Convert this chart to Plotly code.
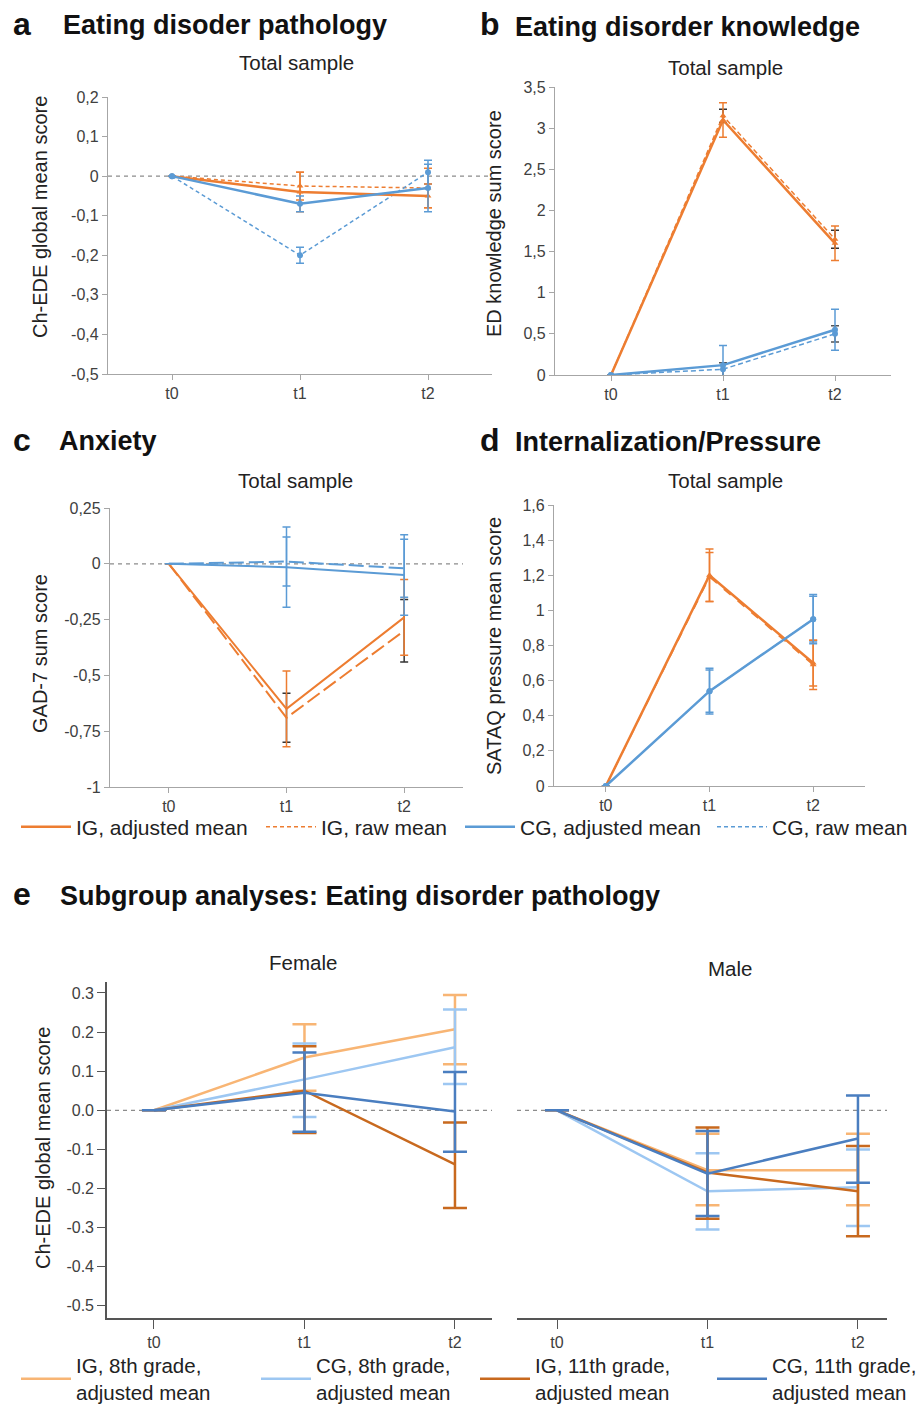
import plotly.graph_objects as go

W, H = 922, 1404
def px(x): return x / W
def py(y): return 1 - y / H

FONT = "Liberation Sans, Arial, sans-serif"
ORANGE = "#ED7D31"
BLUE = "#5B9BD5"
TXT = "#404040"

times = ["t0", "t1", "t2"]

# ---------------- data: panel a (Eating disorder pathology) ----------------
a_ig_adj = [0, -0.04, -0.05];  a_ig_adj_err = [0, 0.05, 0.03]
a_ig_raw = [0, -0.025, -0.03]; a_ig_raw_err = [0, 0.035, 0.05]
a_cg_adj = [0, -0.07, -0.03];  a_cg_adj_err = [0, 0.02, 0.06]
a_cg_raw = [0, -0.20, 0.01];   a_cg_raw_err = [0, 0.02, 0.03]
a_ticks = [0.2, 0.1, 0, -0.1, -0.2, -0.3, -0.4, -0.5]
a_ticktext = ["0,2", "0,1", "0", "-0,1", "-0,2", "-0,3", "-0,4", "-0,5"]

# ---------------- data: panel b (ED knowledge) ----------------
b_ig_adj = [0, 3.10, 1.60];  b_ig_adj_err = [0, 0.21, 0.21]
b_ig_raw = [0, 3.15, 1.65];  b_ig_raw_err = [0, 0.08, 0.11]
b_cg_adj = [0, 0.12, 0.55];  b_cg_adj_err = [0, 0.24, 0.25]
b_cg_raw = [0, 0.07, 0.50];  b_cg_raw_err = [0, 0.08, 0.10]
b_ticks = [3.5, 3, 2.5, 2, 1.5, 1, 0.5, 0]
b_ticktext = ["3,5", "3", "2,5", "2", "1,5", "1", "0,5", "0"]

# ---------------- data: panel c (Anxiety) ----------------
c_ig_adj = [0, -0.65, -0.24];  c_ig_adj_err = [0, 0.17, 0.17]
c_ig_raw = [0, -0.69, -0.30];  c_ig_raw_err = [0, 0.11, 0.14]
c_cg_adj = [0, -0.015, -0.05]; c_cg_adj_err = [0, 0.18, 0.18]
c_cg_raw = [0, 0.01, -0.02];   c_cg_raw_err = [0, 0.11, 0.13]
c_ticks = [0.25, 0, -0.25, -0.5, -0.75, -1]
c_ticktext = ["0,25", "0", "-0,25", "-0,5", "-0,75", "-1"]

# ---------------- data: panel d (Internalization/Pressure) ----------------
d_ig_adj = [0, 1.20, 0.70];  d_ig_adj_err = [0, 0.15, 0.13]
d_ig_raw = [0, 1.19, 0.69];  d_ig_raw_err = [0, 0.14, 0.14]
d_cg_adj = [0, 0.54, 0.95];  d_cg_adj_err = [0, 0.13, 0.14]
d_cg_raw = [0, 0.54, 0.95];  d_cg_raw_err = [0, 0.12, 0.13]
d_ticks = [1.6, 1.4, 1.2, 1, 0.8, 0.6, 0.4, 0.2, 0]
d_ticktext = ["1,6", "1,4", "1,2", "1", "0,8", "0,6", "0,4", "0,2", "0"]

# ---------------- data: panel e (subgroups) ----------------
e_names = ["IG, 8th grade,<br>adjusted mean", "CG, 8th grade,<br>adjusted mean",
           "IG, 11th grade,<br>adjusted mean", "CG, 11th grade,<br>adjusted mean"]
e_colors = ["#F8B574", "#9DC7F2", "#C8691E", "#4A7EC0"]
female_mean  = [[0, 0.135, 0.207], [0, 0.079, 0.161], [0, 0.050, -0.138], [0, 0.045, -0.003]]
female_upper = [[0, 0.220, 0.295], [0, 0.171, 0.258], [0, 0.164, -0.031], [0, 0.148, 0.098]]
female_lower = [[0, 0.050, 0.118], [0, -0.017, 0.067], [0, -0.058, -0.250], [0, -0.055, -0.106]]
male_mean  = [[0, -0.153, -0.153], [0, -0.207, -0.197], [0, -0.159, -0.207], [0, -0.162, -0.072]]
male_upper = [[0, -0.060, -0.060], [0, -0.110, -0.100], [0, -0.044, -0.091], [0, -0.053, 0.038]]
male_lower = [[0, -0.243, -0.243], [0, -0.305, -0.296], [0, -0.277, -0.322], [0, -0.270, -0.185]]
e_ticks = [0.3, 0.2, 0.1, 0.0, -0.1, -0.2, -0.3, -0.4, -0.5]

fig = go.Figure()

def add_series(ax, y, err, color, dash, symbol, name, width=2.5, marker=True,
               legend=None, errcolor=None):
    fig.add_trace(go.Scatter(
        x=times, y=y, name=name, xaxis="x" + ax, yaxis="y" + ax, mode="lines",
        line=dict(color=color, width=width, dash=dash),
        error_y=dict(type="data", array=err, visible=True,
                     color=errcolor or color, thickness=1.5, width=4),
        showlegend=legend is not None, legend=legend or "legend", hoverinfo="skip"))
    if marker:
        fig.add_trace(go.Scatter(
            x=times, y=y, xaxis="x" + ax, yaxis="y" + ax, mode="markers",
            marker=dict(symbol=symbol, size=6, color=color),
            showlegend=False, hoverinfo="skip"))

# panel a (its line traces feed the top legend)
add_series("", a_ig_raw, a_ig_raw_err, ORANGE, "4px,3px", "triangle-up", "IG, raw mean", width=1.5, legend="legend2")
add_series("", a_cg_raw, a_cg_raw_err, BLUE, "4px,3px", "circle", "CG, raw mean", width=1.5, legend="legend4")
add_series("", a_ig_adj, a_ig_adj_err, ORANGE, "solid", "triangle-up", "IG, adjusted mean", legend="legend")
add_series("", a_cg_adj, a_cg_adj_err, BLUE, "solid", "circle", "CG, adjusted mean", legend="legend3")
# panel b
add_series("2", b_ig_raw, b_ig_raw_err, ORANGE, "5px,3px", "triangle-up", "IG, raw mean", width=1.5, errcolor="#333333")
add_series("2", b_cg_raw, b_cg_raw_err, BLUE, "5px,3px", "circle", "CG, raw mean", width=1.5, errcolor="#555555")
add_series("2", b_ig_adj, b_ig_adj_err, ORANGE, "solid", "triangle-up", "IG, adjusted mean")
add_series("2", b_cg_adj, b_cg_adj_err, BLUE, "solid", "circle", "CG, adjusted mean")
# panel c
add_series("3", c_ig_raw, c_ig_raw_err, ORANGE, "15px,5px", "circle", "IG, raw mean", width=2, marker=False, errcolor="#333333")
add_series("3", c_cg_raw, c_cg_raw_err, BLUE, "15px,5px", "circle", "CG, raw mean", width=2, marker=False)
add_series("3", c_ig_adj, c_ig_adj_err, ORANGE, "solid", "circle", "IG, adjusted mean", width=2, marker=False)
add_series("3", c_cg_adj, c_cg_adj_err, BLUE, "solid", "circle", "CG, adjusted mean", width=2, marker=False)
# panel d
add_series("4", d_ig_raw, d_ig_raw_err, ORANGE, "dash", "triangle-up", "IG, raw mean", width=1.5)
add_series("4", d_cg_raw, d_cg_raw_err, BLUE, "dash", "circle", "CG, raw mean", width=1.5)
add_series("4", d_ig_adj, d_ig_adj_err, ORANGE, "solid", "triangle-up", "IG, adjusted mean")
add_series("4", d_cg_adj, d_cg_adj_err, BLUE, "solid", "circle", "CG, adjusted mean")

# panel e
e_legends = ["legend5", "legend6", "legend7", "legend8"]
for ax, means, ups, lows, show in [("5", female_mean, female_upper, female_lower, True),
                                   ("6", male_mean, male_upper, male_lower, False)]:
    for i in range(4):
        m, u, l = means[i], ups[i], lows[i]
        fig.add_trace(go.Scatter(
            x=times, y=m, name=e_names[i], xaxis="x" + ax, yaxis="y" + ax,
            mode="lines", line=dict(color=e_colors[i], width=2.5),
            error_y=dict(type="data", symmetric=False,
                         array=[uu - mm for uu, mm in zip(u, m)],
                         arrayminus=[mm - ll for mm, ll in zip(m, l)],
                         visible=True, color=e_colors[i], thickness=2.5, width=12),
            showlegend=show, legend=e_legends[i], hoverinfo="skip"))

# ---------------- axes ----------------
def xax(dom, rng, linecolor="#A6A6A6", size=16, lw=1.3, ticklen=5):
    return dict(domain=dom, range=rng, type="category", showgrid=False, zeroline=False,
                showline=True, linecolor=linecolor, linewidth=lw, ticks="outside",
                ticklen=ticklen, tickcolor=linecolor, tickfont=dict(size=size, color=TXT, family=FONT),
                fixedrange=True)

def yax(dom, rng, vals, text, linecolor="#A6A6A6", size=16, lw=1.3, ticklen=5, show=True):
    return dict(domain=dom, range=rng, showgrid=False, zeroline=False, showline=show,
                showticklabels=show, linecolor=linecolor, linewidth=lw,
                ticks="outside" if show else "", ticklen=ticklen, tickcolor=linecolor,
                tickvals=vals, ticktext=text, tickfont=dict(size=size, color=TXT, family=FONT),
                fixedrange=True)

e_ticktext = [f"{v:.1f}" for v in e_ticks]

layout_axes = dict(
    xaxis=xax([px(108), px(492)], [-0.5, 2.5]),
    yaxis=yax([py(374), py(97)], [-0.5, 0.2], a_ticks, a_ticktext),
    xaxis2=xax([px(555), px(891)], [-0.5, 2.5]),
    yaxis2=yax([py(375), py(87)], [0, 3.5], b_ticks, b_ticktext),
    xaxis3=xax([px(110), px(463)], [-0.5, 2.5]),
    yaxis3=yax([py(787), py(508)], [-1, 0.25], c_ticks, c_ticktext),
    xaxis4=xax([px(554), px(865)], [-0.5, 2.5]),
    yaxis4=yax([py(786), py(505)], [0, 1.6], d_ticks, d_ticktext),
    xaxis5=xax([px(107), px(492)], [-0.312, 2.246], linecolor="#555555", size=16, lw=1.6, ticklen=9),
    yaxis5=yax([py(1318), py(982)], [-0.531, 0.328], e_ticks, e_ticktext, linecolor="#555555", size=16, lw=1.6, ticklen=8),
    xaxis6=xax([px(517), px(887)], [-0.266, 2.193], linecolor="#555555", size=16, lw=1.6, ticklen=9),
    yaxis6=yax([py(1318), py(982)], [-0.531, 0.328], e_ticks, e_ticktext, show=False),
)
for k in ["xaxis2", "xaxis3", "xaxis4", "xaxis5", "xaxis6"]:
    layout_axes[k]["anchor"] = "y" + k[-1]
for k in ["yaxis2", "yaxis3", "yaxis4", "yaxis5", "yaxis6"]:
    layout_axes[k]["anchor"] = "x" + k[-1]
layout_axes["xaxis"]["anchor"] = "y"
layout_axes["yaxis"]["anchor"] = "x"

# zero reference lines
shapes = []
for xr, yr in [("x", "y"), ("x3", "y3"), ("x5", "y5"), ("x6", "y6")]:
    shapes.append(dict(type="line", xref=xr + " domain", yref=yr, x0=0, x1=1, y0=0, y1=0,
                       line=dict(color="#8C8C8C", width=1.2, dash="4px,4px"), layer="below"))

# ---------------- texts ----------------
ann = []
def text(x, y, s, size, bold=False, anchor="left", angle=0, color="#111111"):
    ann.append(dict(x=px(x), y=py(y), xref="paper", yref="paper", text=f"<b>{s}</b>" if bold else s,
                    showarrow=False, xanchor=anchor, yanchor="middle", textangle=angle,
                    font=dict(size=size, color=color, family=FONT)))

text(11, 24, "a", 32, bold=True)
text(61, 25, "Eating disoder pathology", 27, bold=True)
text(478, 24, "b", 32, bold=True)
text(513, 27, "Eating disorder knowledge", 27, bold=True)
text(11, 440, "c", 32, bold=True)
text(57, 441, "Anxiety", 27, bold=True)
text(478, 440, "d", 32, bold=True)
text(513, 442, "Internalization/Pressure", 27, bold=True)
text(11, 894, "e", 32, bold=True)
text(58, 896, "Subgroup analyses: Eating disorder pathology", 27, bold=True)

TS = 20.5
text(296, 63, "Total sample", TS, anchor="center", color="#222222")
text(725, 67, "Total sample", TS, anchor="center", color="#222222")
text(295, 481, "Total sample", TS, anchor="center", color="#222222")
text(725, 481, "Total sample", TS, anchor="center", color="#222222")
text(303, 962, "Female", TS, anchor="center", color="#222222")
text(730, 968, "Male", TS, anchor="center", color="#222222")

text(40, 217, "Ch-EDE global mean score", 20, anchor="center", angle=-90, color="#222222")
text(494, 224, "ED knowledge sum score", 20, anchor="center", angle=-90, color="#222222")
text(40, 654, "GAD-7 sum score", 20, anchor="center", angle=-90, color="#222222")
text(494, 646, "SATAQ pressure mean score", 20, anchor="center", angle=-90, color="#222222")
text(43, 1148, "Ch-EDE global mean score", 20, anchor="center", angle=-90, color="#222222")

# ---------------- legends: one per entry, placed like the reference ----------------
def legend_box(x, y, size):
    return dict(x=px(x), y=py(y), xanchor="left", yanchor="middle", orientation="h",
                font=dict(size=size, color="#222222", family=FONT),
                bgcolor="rgba(0,0,0,0)", itemwidth=50,
                itemclick=False, itemdoubleclick=False, borderwidth=0)

legends = {}
for key, xs in zip(["legend", "legend2", "legend3", "legend4"], [22, 267, 466, 718]):
    legends[key] = legend_box(xs - 6, 827, 21)
for key, xs in zip(e_legends, [22, 262, 481, 718]):
    legends[key] = legend_box(xs - 6, 1379, 20.5)

fig.update_layout(
    width=W, height=H, margin=dict(l=0, r=0, t=0, b=0, autoexpand=False),
    paper_bgcolor="white", plot_bgcolor="white",
    font=dict(family=FONT, color="#222222"),
    shapes=shapes, annotations=ann,
    **legends,
    **layout_axes,
)

fig.write_html("out.html", config={"displayModeBar": False},
               post_script="document.body.style.margin='0px';")
